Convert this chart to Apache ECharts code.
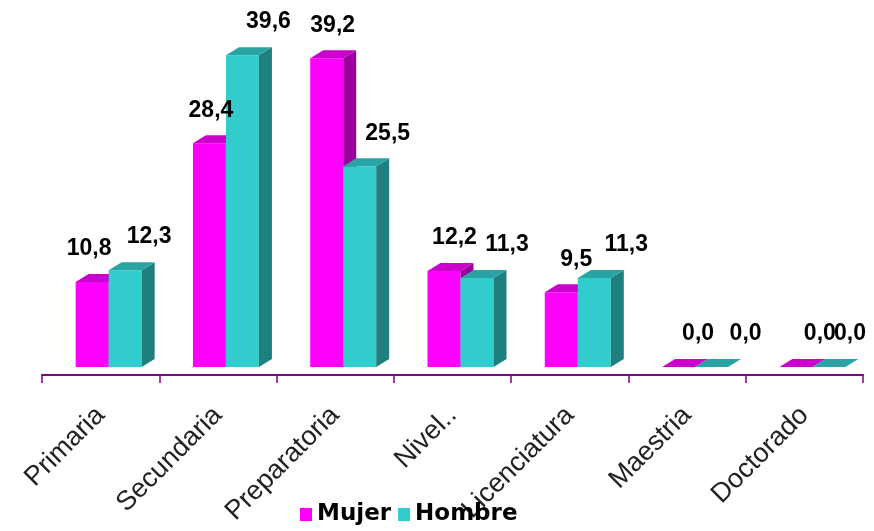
<!DOCTYPE html>
<html lang="es">
<head>
    <meta charset="UTF-8">
    <title>Nivel de estudios</title>
    <script src="https://cdn.jsdelivr.net/npm/echarts@6/dist/echarts.min.js"></script>
    <style>
        body, html {
            margin: 0;
            width: 100%;
            height: 100%;
            background: #fff;
        }
        #chart {
            width: 874px;
            height: 531px;
        }
    </style>
</head>
<body>
<div id="chart"></div>
<script>
    // datos
    const categories = ['Primaria', 'Secundaria', 'Preparatoria', 'Nivel..', 'Licenciatura', 'Maestria', 'Doctorado'];
    const mujer = [10.8, 28.4, 39.2, 12.2, 9.5, 0.0, 0.0];
    const hombre = [12.3, 39.6, 25.5, 11.3, 11.3, 0.0, 0.0];

    // geometria de las barras 3D
    const BAR_W = 33;
    const DEPTH_X = 13;
    const DEPTH_Y = 8;
    const SHIFT = 8;
    const CHART_W = 874;

    function fmt(v) {
        return v.toFixed(1).replace('.', ',');
    }

    function bar3d(front, top, side, offsetX) {
        return function (params, api) {
            const i = api.value(0);
            const v = api.value(1);
            const base = api.coord([i, 0]);
            const head = api.coord([i, v]);
            const x = base[0] + SHIFT + offsetX;
            const yb = base[1];
            const yt = head[1];
            const children = [];
            if (yb - yt > 0.5) {
                children.push({
                    type: 'rect',
                    shape: {x: x, y: yt, width: BAR_W, height: yb - yt},
                    style: {fill: front}
                });
                children.push({
                    type: 'polygon',
                    shape: {points: [[x + BAR_W, yt], [x + BAR_W + DEPTH_X, yt - DEPTH_Y],
                        [x + BAR_W + DEPTH_X, yb - DEPTH_Y], [x + BAR_W, yb]]},
                    style: {fill: side}
                });
            }
            children.push({
                type: 'polygon',
                shape: {points: [[x, yt], [x + BAR_W, yt],
                    [x + BAR_W + DEPTH_X, yt - DEPTH_Y], [x + DEPTH_X, yt - DEPTH_Y]]},
                style: {fill: top}
            });
            return {type: 'group', children: children};
        };
    }

    // etiquetas de valor, encima de todas las barras
    function labelItem(params, api) {
        const i = api.value(0);
        const vals = [api.value(1), api.value(2)];
        const base = api.coord([i, 0]);
        const children = [];
        vals.forEach(function (v, k) {
            const yt = api.coord([i, v])[1];
            const cx = base[0] + SHIFT + (k === 0 ? -BAR_W / 2 : BAR_W / 2);
            let lx = cx + (k === 0 ? -3 + 4.5 * i : 24 + 2 * i);
            lx = Math.min(lx, CHART_W - 24);
            children.push({
                type: 'text',
                style: {
                    text: fmt(v),
                    x: lx,
                    y: yt - 33,
                    align: 'center',
                    verticalAlign: 'middle',
                    font: 'bold 23px "Liberation Sans", Arial',
                    fill: '#000'
                }
            });
        });
        return {type: 'group', children: children};
    }

    const chart = echarts.init(document.getElementById('chart'));

    chart.setOption({
        animation: false,
        grid: {left: 42, right: 11, top: 52, bottom: 164},
        legend: {
            bottom: 0,
            left: 295,
            selectedMode: false,
            icon: 'rect',
            itemWidth: 12,
            itemHeight: 13,
            itemGap: 7,
            textStyle: {
                fontFamily: 'DejaVu Sans',
                fontWeight: 'bold',
                fontSize: 23,
                color: '#000'
            },
            data: ['Mujer', 'Hombre']
        },
        xAxis: {
            type: 'category',
            data: categories,
            offset: 8,
            axisLine: {onZero: false, lineStyle: {color: '#800080', width: 2}},
            axisTick: {show: true, length: 8, lineStyle: {color: '#800080', width: 1.5}},
            axisLabel: {
                interval: 0,
                rotate: 45,
                margin: 36,
                fontFamily: '"Liberation Sans", Arial',
                fontSize: 27,
                color: '#222'
            }
        },
        yAxis: {
            type: 'value',
            min: 0,
            max: 40,
            show: false
        },
        series: [
            {
                name: 'Mujer',
                type: 'custom',
                itemStyle: {color: '#ff00ff'},
                renderItem: bar3d('#ff00ff', '#cc00cc', '#9c009c', -BAR_W),
                data: mujer.map(function (v, i) {
                    return [i, v];
                })
            },
            {
                name: 'Hombre',
                type: 'custom',
                itemStyle: {color: '#33cccc'},
                renderItem: bar3d('#33cccc', '#29a3a3', '#1f7f7f', 0),
                data: hombre.map(function (v, i) {
                    return [i, v];
                })
            },
            {
                type: 'custom',
                z: 10,
                silent: true,
                renderItem: labelItem,
                data: categories.map(function (c, i) {
                    return [i, mujer[i], hombre[i]];
                })
            }
        ]
    });
</script>
</body>
</html>
